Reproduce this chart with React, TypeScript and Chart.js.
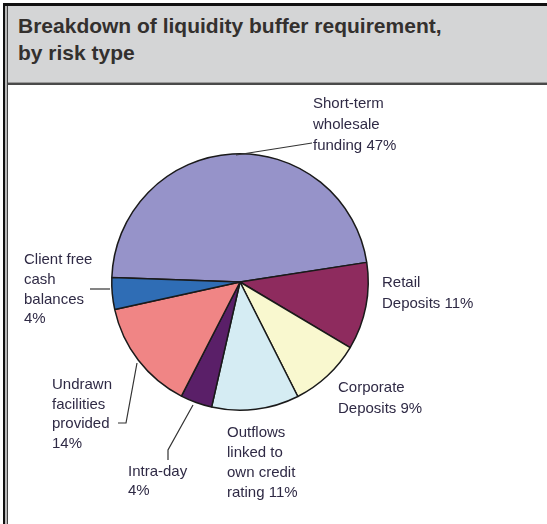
import React, { useEffect, useRef } from "react";
import { Chart, registerables } from "chart.js";

Chart.register(...registerables);

const TITLE_LINES = ["Breakdown of liquidity buffer requirement,", "by risk type"];

const categories = [
  "Short-term wholesale funding",
  "Retail Deposits",
  "Corporate Deposits",
  "Outflows linked to own credit rating",
  "Intra-day",
  "Undrawn facilities provided",
  "Client free cash balances",
];

const values = [47, 11, 9, 11, 4, 14, 4];

// label text templates ({v} replaced by the value)
const labelTemplates = [
  "Short-term\nwholesale\nfunding {v}%",
  "Retail\nDeposits {v}%",
  "Corporate\nDeposits {v}%",
  "Outflows\nlinked to\nown credit\nrating {v}%",
  "Intra-day\n{v}%",
  "Undrawn\nfacilities\nprovided\n{v}%",
  "Client free\ncash\nbalances\n{v}%",
];

const colors = ["#9693c9", "#8e2b5e", "#f9f8cf", "#d5ecf3", "#5a1f68", "#f08585", "#2f6db5"];

// label layout relative to pie centre (px): text x, first-line centre y, line gap, leader polyline
const labelLayout = [
  { dx: 73, dy: -178, gap: 21, leader: [[-4, -127], [72, -139]] },
  { dx: 142, dy: 1, gap: 21, leader: [] },
  { dx: 98, dy: 106, gap: 21, leader: [] },
  { dx: -13, dy: 151, gap: 20, leader: [] },
  { dx: -112, dy: 190, gap: 19, leader: [[-47, 123], [-72, 168], [-72, 178]] },
  { dx: -188, dy: 103, gap: 19.5, leader: [[-103, 81], [-114, 141], [-122, 141]] },
  { dx: -216, dy: -22, gap: 19.7, leader: [[-150, 7], [-130, 7]] },
];

const labelPlugin = {
  id: "pieLabels",
  afterDraw(chart: any) {
    const meta = chart.getDatasetMeta(0);
    const ctx = chart.ctx as CanvasRenderingContext2D;
    ctx.save();
    ctx.font = "15px 'Liberation Sans', Arial, sans-serif";
    ctx.fillStyle = "#2f2a45";
    ctx.textBaseline = "middle";
    ctx.textAlign = "left";
    meta.data.forEach((arc: any, i: number) => {
      const cx = arc.x;
      const cy = arc.y;
      const lay = labelLayout[i];
      const text = labelTemplates[i].replace("{v}", String(values[i]));
      text.split("\n").forEach((line, j) => {
        ctx.fillText(line, cx + lay.dx, cy + lay.dy + j * lay.gap);
      });
      if (lay.leader.length > 1) {
        ctx.beginPath();
        ctx.strokeStyle = "#333";
        ctx.lineWidth = 1.2;
        lay.leader.forEach((p, k) => {
          if (k === 0) ctx.moveTo(cx + p[0], cy + p[1]);
          else ctx.lineTo(cx + p[0], cy + p[1]);
        });
        ctx.stroke();
      }
    });
    ctx.restore();
  },
};

export default function App() {
  const ref = useRef<HTMLCanvasElement | null>(null);
  useEffect(() => {
    if (!ref.current) return;
    const chart = new Chart(ref.current, {
      type: "pie",
      data: {
        labels: categories,
        datasets: [
          {
            data: values,
            backgroundColor: colors,
            borderColor: "#1a1a1a",
            borderWidth: 1.5,
          },
        ],
      },
      options: {
        responsive: false,
        animation: false,
        rotation: 272,
        layout: { padding: { left: 111, right: 178, top: 153, bottom: 113 } },
        plugins: { legend: { display: false }, tooltip: { enabled: false }, title: { display: false } },
      },
      plugins: [labelPlugin],
    });
    return () => chart.destroy();
  }, []);

  return (
    <div style={{ position: "fixed", left: 0, top: 0, width: 547, height: 524, background: "#fff", overflow: "hidden" }}>
      {/* outer frame */}
      <div style={{ position: "absolute", left: 3, top: 3, width: 544, height: 3, background: "#111" }} />
      <div style={{ position: "absolute", left: 3, top: 3, width: 2, height: 521, background: "#111" }} />
      <div style={{ position: "absolute", left: 5, top: 6, width: 2, height: 518, background: "#b8b8b8" }} />
      <div style={{ position: "absolute", left: 7, top: 6, width: 1, height: 518, background: "#444" }} />
      {/* title band */}
      <div style={{ position: "absolute", left: 8, top: 6, width: 539, height: 77, background: "#d4d5d6" }} />
      <div style={{ position: "absolute", left: 8, top: 82, width: 539, height: 1, background: "#9a9a9a" }} />
      <div style={{ position: "absolute", left: 8, top: 83, width: 539, height: 2, background: "#4a4a4a" }} />
      <div
        style={{
          position: "absolute",
          left: 18,
          top: 12,
          font: "bold 21px 'Liberation Sans', Arial, sans-serif",
          lineHeight: "27px",
          color: "#33302e",
          whiteSpace: "nowrap",
        }}
      >
        {TITLE_LINES.map((t, i) => (
          <div key={i}>{t}</div>
        ))}
      </div>
      <canvas ref={ref} width={547} height={524} style={{ position: "absolute", left: 0, top: 0 }} />
    </div>
  );
}
